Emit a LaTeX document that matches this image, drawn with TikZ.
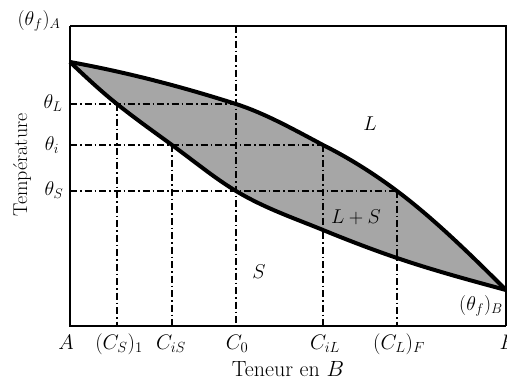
\RequirePackage{fix-cm}
\documentclass[tikz,border=0pt]{standalone}
\begin{document}
\begin{tikzpicture}[x=1pt,y=-1pt,
  lab/.style={font=\fontsize{20}{24}\selectfont, inner sep=0pt},
  xlab/.style={font=\fontsize{21}{25}\selectfont, inner sep=0pt, anchor=base},
  curve/.style={line width=4pt, line join=round},
  axis/.style={line width=2.6pt},
  frame/.style={line width=1.4pt},
  guide/.style={line width=1.1pt, dash pattern=on 7pt off 3pt on 1.5pt off 3pt}]
\useasboundingbox (0,0) rectangle (507,381);
% key points
\coordinate (TA) at (70,62);
\coordinate (TB) at (506,290);
\coordinate (O) at (70,326);
\coordinate (BR) at (506,326);
\coordinate (TL) at (70,26);
\coordinate (TR) at (506,26);
\coordinate (yL) at (70,104);
\coordinate (yi) at (70,145);
\coordinate (yS) at (70,191);
\coordinate (sL) at (117,104);
\coordinate (si) at (172,145);
\coordinate (sS) at (236,191);
\coordinate (s4) at (323,230);
\coordinate (s5) at (397,258);
\coordinate (lL) at (236,104);
\coordinate (li) at (323,145);
\coordinate (lS) at (397,191);
\coordinate (b1) at (117,326);
\coordinate (b2) at (172,326);
\coordinate (b3) at (236,326);
\coordinate (t3) at (236,26);
\coordinate (b4) at (323,326);
\coordinate (b5) at (397,326);
% liquidus and solidus paths (Hermite-fitted cubic pieces)
\def\liquidus{(TA) .. controls (125.3,72.0) and (180.7,86.3) .. (lL)
  .. controls (265,113.3) and (294,129.6) .. (li)
  .. controls (347.7,157.3) and (372.3,172.5) .. (lS)
  .. controls (433.3,218.2) and (469.7,253.7) .. (TB)}
\def\solidusrev{(TB) .. controls (469.67,280.2) and (433.33,270.35) .. (s5)
  .. controls (372.33,249.6) and (347.67,240.1) .. (s4)
  .. controls (294,218.1) and (265,208.4) .. (sS)
  .. controls (214.7,178.2) and (193.3,160.6) .. (si)
  .. controls (153.67,131.62) and (135.33,118.67) .. (sL)
  .. controls (101.33,91.5) and (85.67,76.9) .. (TA)}
% two-phase region
\fill[gray!70] \liquidus -- \solidusrev -- cycle;
% guide lines
\draw[guide] (yL) -- (lL);
\draw[guide] (yi) -- (li);
\draw[guide] (yS) -- (lS);
\draw[guide] (sL) -- (b1);
\draw[guide] (si) -- (b2);
\draw[guide] (t3) -- (b3);
\draw[guide] (li) -- (b4);
\draw[guide] (lS) -- (b5);
% curves
\draw[curve] \liquidus;
\draw[curve] \solidusrev;
% frame and axes
\draw[frame] (TL) -- (TR) -- (BR);
\draw[axis] (TL) -- (O) -- (BR);
% labels
\node[lab] (lA) at (39,21) {$(\theta_f)_A$};
\node[lab] (lthL) at (53,103) {$\theta_L$};
\node[lab] (lthi) at (52,145) {$\theta_i$};
\node[lab] (lthS) at (54,190) {$\theta_S$};
\node[font=\fontsize{20}{24}\selectfont, inner sep=0pt, rotate=90] (ltemp) at (22,165) {Température};
\node[lab] (lLiq) at (370,124) {$L$};
\node[lab] (lLS) at (356,217) {$L+S$};
\node[lab] (lS) at (259,272) {$S$};
\node[lab] (lB) at (481,306) {$(\theta_f)_B$};
\node[xlab] (xA) at (66,349) {$A$};
\node[xlab] (x1) at (119,349) {$(C_S)_1$};
\node[xlab] (x2) at (171,349) {$C_{iS}$};
\node[xlab] (x3) at (237,349) {$C_0$};
\node[xlab] (x4) at (325,349) {$C_{iL}$};
\node[xlab] (x5) at (399,349) {$(C_L)_F$};
\node[xlab] (xB) at (508,349) {$B$};
\node[font=\fontsize{22}{26}\selectfont, inner sep=0pt, anchor=base] (xt) at (288,376) {Teneur en $B$};
\end{tikzpicture}
\end{document}
